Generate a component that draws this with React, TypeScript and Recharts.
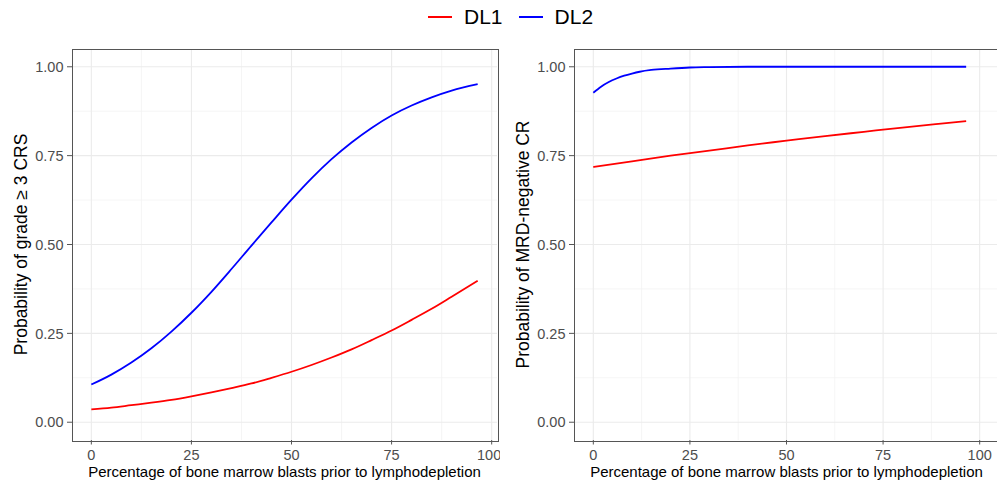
import { CartesianGrid, Line, LineChart, XAxis, YAxis } from "recharts";

const FONT = '"Liberation Sans", Arial, Helvetica, sans-serif';

// series names + colours
const seriesNames = ["DL1", "DL2"];
const seriesColors = ["#FF0000", "#0000FF"];

// left panel: probability of grade >= 3 CRS
const crsX = [0, 5, 10, 15, 20, 25, 30, 35, 40, 45, 50, 55, 60, 65, 70, 75, 80, 85, 90, 96.5];
const crsDL1 = [0.036, 0.041, 0.048, 0.055, 0.063, 0.073, 0.084, 0.096, 0.109, 0.125, 0.142, 0.161, 0.182, 0.205, 0.231, 0.258, 0.288, 0.319, 0.353, 0.398];
const crsDL2 = [0.106, 0.134, 0.168, 0.208, 0.255, 0.308, 0.367, 0.431, 0.497, 0.562, 0.626, 0.686, 0.74, 0.787, 0.828, 0.863, 0.891, 0.914, 0.933, 0.951];

// right panel: probability of MRD-negative CR
const mrdX1 = [0, 10, 20, 30, 40, 50, 60, 70, 80, 90, 96.5];
const mrdDL1 = [0.718, 0.734, 0.75, 0.764, 0.779, 0.792, 0.805, 0.817, 0.829, 0.84, 0.847];
const mrdX2 = [0, 2, 4, 6, 8, 10, 12, 15, 20, 25, 30, 40, 50, 60, 70, 80, 90, 96.5];
const mrdDL2 = [0.927, 0.944, 0.957, 0.967, 0.975, 0.981, 0.986, 0.991, 0.995, 0.998, 0.999, 1, 1, 1, 1, 1, 1, 1];

const xTicks = [0, 25, 50, 75, 100];
const xMinor = [12.5, 37.5, 62.5, 87.5];
const yTicks = [0, 0.25, 0.5, 0.75, 1];
const yMinor = [0.125, 0.375, 0.625, 0.875];

const xTitle = "Percentage of bone marrow blasts prior to lymphodepletion";

const zip = (xs: number[], ys: number[]) => xs.map((x, i) => ({ x, y: ys[i] }));

type PanelProps = {
  left: number;
  yTitle: string;
  xDomain: [number, number];
  lines: { data: { x: number; y: number }[]; color: string }[];
};

function Panel({ left, yTitle, xDomain, lines }: PanelProps) {
  const tick = { fill: "#4D4D4D", fontSize: 14.5, fontFamily: FONT };
  const border = { stroke: "#555555", strokeWidth: 1 };
  return (
    <div style={{ position: "absolute", left, top: 0, width: 500, height: 485 }}>
      <LineChart width={500} height={485} margin={{ top: 49, right: 3, bottom: 0, left: 12 }}>
        <CartesianGrid
          verticalValues={xMinor}
          horizontalValues={yMinor}
          stroke="#F3F3F3"
          strokeWidth={0.8}
        />
        <CartesianGrid
          verticalValues={xTicks}
          horizontalValues={yTicks}
          stroke="#EBEBEB"
          strokeWidth={1.1}
        />
        <XAxis
          type="number"
          dataKey="x"
          domain={xDomain}
          allowDataOverflow
          ticks={xTicks}
          height={45}
          tick={tick}
          tickSize={4.5}
          tickMargin={5}
          tickLine={border}
          axisLine={false}
          label={({ viewBox }: any) => (
            <text
              x={viewBox.x + viewBox.width / 2}
              y={viewBox.y + 37}
              textAnchor="middle"
              fontSize={15}
              fontFamily={FONT}
              fill="#000"
            >
              {xTitle}
            </text>
          )}
        />
        <YAxis
          type="number"
          domain={[-0.05, 1.05]}
          allowDataOverflow
          ticks={yTicks}
          width={60}
          tick={tick}
          tickSize={5}
          tickMargin={3.5}
          tickLine={border}
          axisLine={false}
          tickFormatter={(v: number) => v.toFixed(2)}
          label={({ viewBox }: any) => {
            const cx = viewBox.x + 9;
            const cy = viewBox.y + viewBox.height / 2;
            return (
              <text
                x={cx}
                y={cy}
                transform={`rotate(-90, ${cx}, ${cy})`}
                textAnchor="middle"
                dominantBaseline="central"
                fontSize={17.5}
                fontFamily={FONT}
                fill="#000"
              >
                {yTitle}
              </text>
            );
          }}
        />
        {lines.map((l, i) => (
          <Line
            key={i}
            data={l.data}
            dataKey="y"
            type="monotone"
            stroke={l.color}
            strokeWidth={1.8}
            dot={false}
            activeDot={false}
            isAnimationActive={false}
          />
        ))}
      </LineChart>
      {/* panel border */}
      <div
        style={{
          position: "absolute",
          left: 72,
          top: 49,
          width: 425,
          height: 391,
          border: "1px solid #555555",
          pointerEvents: "none",
        }}
      />
    </div>
  );
}

export default function App() {
  return (
    <div
      style={{
        position: "absolute",
        left: 0,
        top: 0,
        width: 997,
        height: 485,
        overflow: "hidden",
        background: "#fff",
        fontFamily: FONT,
      }}
    >
      <Panel
        left={0}
        yTitle="Probability of grade ≥ 3 CRS"
        xDomain={[-4.83, 101.33]}
        lines={[
          { data: zip(crsX, crsDL1), color: seriesColors[0] },
          { data: zip(crsX, crsDL2), color: seriesColors[1] },
        ]}
      />
      <Panel
        left={502}
        yTitle="Probability of MRD-negative CR"
        xDomain={[-5, 105]}
        lines={[
          { data: zip(mrdX1, mrdDL1), color: seriesColors[0] },
          { data: zip(mrdX2, mrdDL2), color: seriesColors[1] },
        ]}
      />

      {/* legend */}
      <div style={{ position: "absolute", left: 428, top: 0, height: 33, display: "flex", alignItems: "center" }}>
        {seriesNames.map((name, i) => (
          <div key={name} style={{ display: "flex", alignItems: "center", marginRight: 16 }}>
            <div style={{ width: 24, height: 2, background: seriesColors[i], marginRight: 12 }} />
            <span style={{ fontSize: 21, color: "#000", lineHeight: "33px" }}>{name}</span>
          </div>
        ))}
      </div>
    </div>
  );
}
